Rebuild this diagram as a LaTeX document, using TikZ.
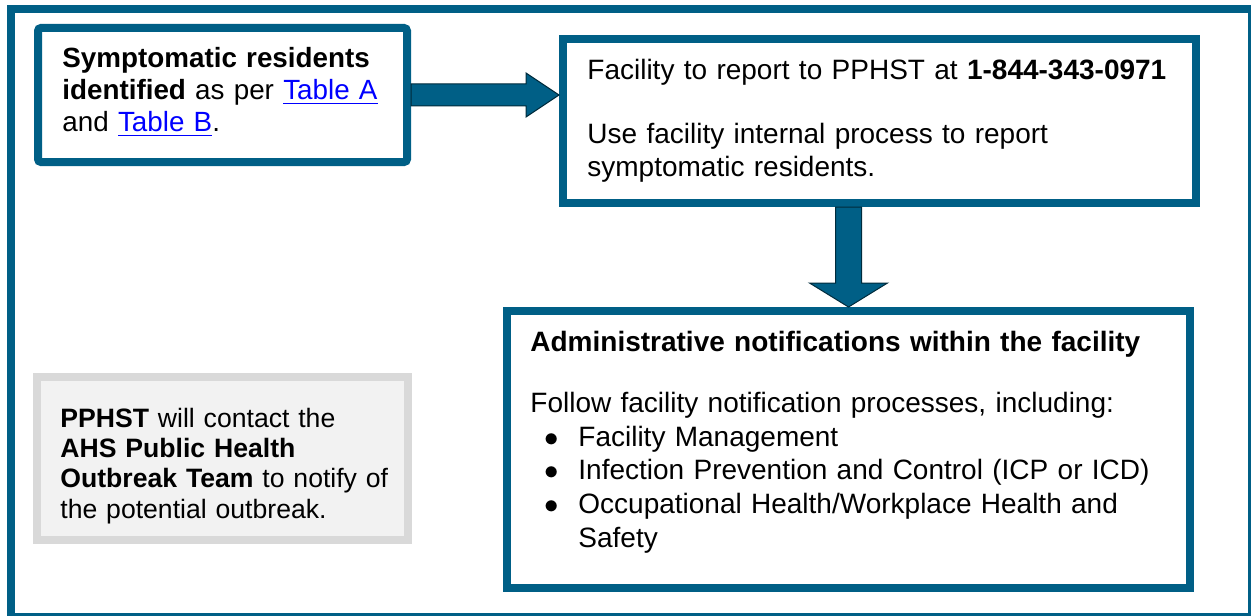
\documentclass[tikz,border=0pt]{standalone}
\usepackage{fontspec}
\setmainfont{Liberation Sans}
\usetikzlibrary{calc}

\definecolor{ahsblue}{RGB}{0,95,134}
\definecolor{linkblue}{RGB}{0,0,255}
\definecolor{greyfill}{RGB}{242,242,242}
\definecolor{greyline}{RGB}{217,217,217}

\newcommand{\tablelink}[1]{\textcolor{linkblue}{\underline{#1}}}
\newcommand{\bulletline}[1]{\hspace*{7pt}\makebox[17pt][l]{$\bullet$}#1}

\begin{document}
\begin{tikzpicture}[x=0.5pt,y=-0.5pt,
  box/.style={draw=ahsblue, line width=4pt, fill=white, inner sep=0pt},
  greybox/.style={draw=greyline, line width=4pt, fill=greyfill, inner sep=0pt},
  boxtext/.style={anchor=base west, align=left, inner sep=0pt},
  blockarrow/.style={fill=ahsblue, draw=ahsblue!45!black, line width=0.5pt}]
\useasboundingbox (0,0) rectangle (1251,615);
% outer frame
\draw[ahsblue, line width=4pt] (11,9) rectangle (1252,617);

% frames
\node [box, rounded corners=1.5pt, minimum width=184.5pt, minimum height=67pt] (sym) at (222.5,95) {};
\node [box, minimum width=316.5pt, minimum height=82pt] (report) at (879.5,121) {};
\node [box, minimum width=341.5pt, minimum height=138.5pt] (admin) at (848.5,449.5) {};
\node [greybox, minimum width=185.5pt, minimum height=81.5pt] (contact) at (222.5,458.5) {};

% texts, placed at their first baseline
\node [boxtext, text width=170pt, font=\fontsize{13.9}{16}\selectfont] (symtext) at (62,68)
  {\textbf{Symptomatic residents}\\ \textbf{identified} as per \tablelink{Table A}\\ and \tablelink{Table B}.};
\node [boxtext, text width=300pt, font=\fontsize{14}{16}\selectfont] (reporttext) at (587,80)
  {Facility to report to PPHST at \textbf{1-844-343-0971}\\[16pt]
   Use facility internal process to report\\ symptomatic residents.};
\node [boxtext, text width=320pt, font=\fontsize{14}{16.8}\selectfont] (admintext) at (530,351.5)
  {\textbf{Administrative notifications within the facility}\\[13.75pt]
   Follow facility notification processes, including:\\
   \bulletline{Facility Management}\\
   \bulletline{Infection Prevention and Control (ICP or ICD)}\\
   \bulletline{Occupational Health/Workplace Health and}\\
   \hspace*{24pt}Safety};
\node [boxtext, text width=170pt, font=\fontsize{13.3}{15.2}\selectfont] (contacttext) at (60,427)
  {\textbf{PPHST} will contact the\\ \textbf{AHS Public Health}\\ \textbf{Outbreak Team} to notify of\\ the potential outbreak.};

% block arrows
\coordinate (rtip) at (report.west |- sym.east);
\draw[blockarrow] ($(sym.east)+(0,-11)$) -- ($(rtip)+(-33,-11)$) -- ($(rtip)+(-33,-22)$) -- (rtip)
  -- ($(rtip)+(-33,22)$) -- ($(rtip)+(-33,11)$) -- ($(sym.east)+(0,11)$) -- cycle;
\coordinate (dtop) at (admin.north |- report.south);
\draw[blockarrow] ($(dtop)+(-13,0)$) -- ($(admin.north)+(-13,-24)$) -- ($(admin.north)+(-39,-24)$) -- (admin.north)
  -- ($(admin.north)+(39,-24)$) -- ($(admin.north)+(13,-24)$) -- ($(dtop)+(13,0)$) -- cycle;
\end{tikzpicture}
\end{document}
